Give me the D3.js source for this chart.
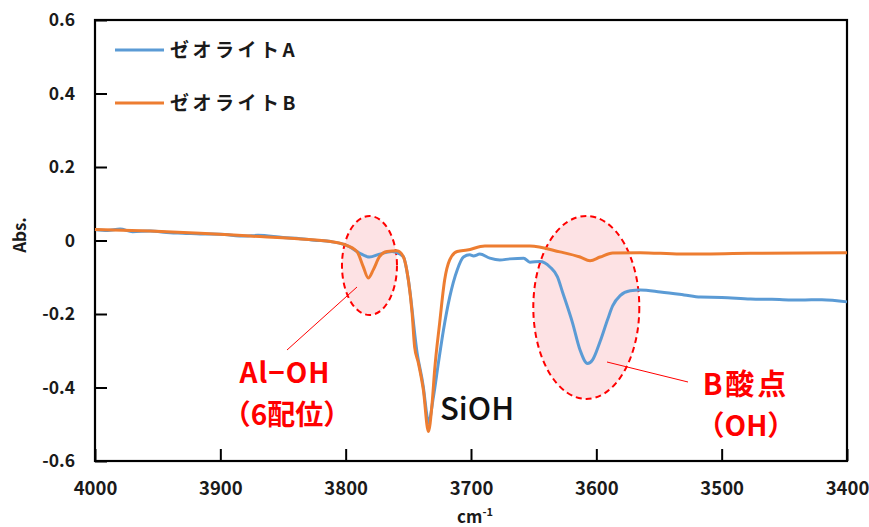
<!DOCTYPE html>
<html><head><meta charset="utf-8">
<script src="https://cdn.jsdelivr.net/npm/d3@7"></script>
<style>body{margin:0;background:#fff}svg{display:block}</style>
</head><body>
<svg id="c" width="869" height="527"></svg>
<script>
const xTicks = [4000, 3900, 3800, 3700, 3600, 3500, 3400];
const yTicks = [0.6, 0.4, 0.2, 0, -0.2, -0.4, -0.6];
const seriesNames = ["ゼオライトA", "ゼオライトB"];
const seriesColors = ["#5B9BD5", "#ED7D31"];

const waveA = [4000,3990,3980,3970,3956,3940,3930,3916,3900,3880,3870,3850,3836,3825,3812,3802,3797,3789,3781,3773,3763,3754,3750,3743,3738,3735,3734,3730,3726,3722,3717,3711,3706,3701,3698,3693,3685,3677,3669,3658,3653,3645,3637,3631,3627,3619,3613,3607,3603,3597,3591,3587,3581,3573,3565,3549,3530,3517,3500,3477,3460,3437,3420,3400];
const absA  = [0.030,0.027,0.031,0.024,0.026,0.021,0.020,0.018,0.017,0.012,0.014,0.008,0.005,0.001,-0.003,-0.010,-0.017,-0.034,-0.045,-0.037,-0.030,-0.044,-0.107,-0.306,-0.399,-0.480,-0.497,-0.426,-0.333,-0.244,-0.154,-0.080,-0.045,-0.039,-0.042,-0.037,-0.048,-0.053,-0.050,-0.048,-0.059,-0.057,-0.072,-0.099,-0.140,-0.224,-0.298,-0.335,-0.325,-0.275,-0.215,-0.178,-0.150,-0.137,-0.135,-0.140,-0.148,-0.154,-0.155,-0.159,-0.160,-0.162,-0.161,-0.167];

const waveB = [4000,3956,3916,3876,3836,3812,3802,3791,3786,3782,3778,3773,3767,3759,3754,3750,3747,3745,3742,3738,3734,3731,3729,3725,3721,3717,3711,3703,3689,3653,3629,3613,3605,3597,3587,3565,3533,3477,3400];
const absB  = [0.030,0.026,0.020,0.012,0.004,-0.003,-0.010,-0.030,-0.071,-0.102,-0.080,-0.044,-0.030,-0.028,-0.044,-0.107,-0.197,-0.289,-0.333,-0.407,-0.520,-0.442,-0.352,-0.224,-0.107,-0.053,-0.030,-0.026,-0.015,-0.015,-0.031,-0.045,-0.055,-0.045,-0.034,-0.033,-0.037,-0.035,-0.033];

const svg = d3.select("#c");
const L = 95, R = 847, T = 20, B = 461;
const x = d3.scaleLinear().domain([4000, 3400]).range([L, R]);
const y = d3.scaleLinear().domain([-0.6, 0.6]).range([B, T]);
const font = "'Noto Sans CJK JP', 'Noto Sans', sans-serif";

// annotation ellipses (behind data)
const ells = [
  {wn: 3781, ab: -0.068, rx: 27.5, ry: 49.5},
  {wn: 3608, ab: -0.182, rx: 53, ry: 91.5}
];
ells.forEach(e => {
  svg.append("ellipse").attr("cx", x(e.wn)).attr("cy", y(e.ab))
    .attr("rx", e.rx).attr("ry", e.ry)
    .attr("fill", "#fde2e4").attr("stroke", "#ff0000")
    .attr("stroke-width", 2).attr("stroke-dasharray", "6,4");
});

// leader lines
svg.append("line").attr("x1", 287).attr("y1", 350).attr("x2", 357).attr("y2", 287)
  .attr("stroke", "#ff0000").attr("stroke-width", 1);
svg.append("line").attr("x1", 607).attr("y1", 362).attr("x2", 688).attr("y2", 382)
  .attr("stroke", "#ff0000").attr("stroke-width", 1);

// axes frame
svg.append("rect").attr("x", L).attr("y", T).attr("width", R - L).attr("height", B - T)
  .attr("fill", "none").attr("stroke", "#000").attr("stroke-width", 2.2);

const yAxis = d3.axisLeft(y).tickValues(yTicks).tickSize(-12).tickPadding(20)
  .tickFormat(d => d === 0 ? "0" : d.toFixed(1));
const gy = svg.append("g").attr("transform", `translate(${L},0)`).call(yAxis);
gy.select(".domain").remove();
gy.selectAll("line").attr("stroke", "#000").attr("stroke-width", 2);
gy.selectAll("text").attr("font-family", font).attr("font-weight", "bold")
  .attr("font-size", 17.5).attr("fill", "#1a1a1a");

const xAxis = d3.axisBottom(x).tickValues(xTicks).tickSize(-12).tickPadding(21)
  .tickFormat(d3.format("d"));
const gx = svg.append("g").attr("transform", `translate(0,${B})`).call(xAxis);
gx.select(".domain").remove();
gx.selectAll("line").attr("stroke", "#000").attr("stroke-width", 2);
gx.selectAll("text").attr("font-family", font).attr("font-weight", "bold")
  .attr("font-size", 18.5).attr("fill", "#1a1a1a");

// data lines
const line = d3.line().x(d => x(d[0])).y(d => y(d[1])).curve(d3.curveMonotoneX);
const dataA = waveA.map((w, i) => [w, absA[i]]);
const dataB = waveB.map((w, i) => [w, absB[i]]);
svg.append("path").datum(dataA).attr("d", line).attr("fill", "none")
  .attr("stroke", seriesColors[0]).attr("stroke-width", 3).attr("stroke-linejoin", "round");
svg.append("path").datum(dataB).attr("d", line).attr("fill", "none")
  .attr("stroke", seriesColors[1]).attr("stroke-width", 3).attr("stroke-linejoin", "round");

// legend
[50, 103].forEach((ly, i) => {
  svg.append("line").attr("x1", 115).attr("x2", 164).attr("y1", ly).attr("y2", ly)
    .attr("stroke", seriesColors[i]).attr("stroke-width", 3);
  svg.append("text").attr("x", 170).attr("y", ly + 7).text(seriesNames[i])
    .attr("font-family", font).attr("font-weight", "bold").attr("font-size", 19)
    .attr("letter-spacing", 3.5).attr("fill", "#1a1a1a");
});

// axis titles
svg.append("text").attr("transform", "translate(26,235) rotate(-90)")
  .attr("text-anchor", "middle").attr("font-family", font).attr("font-weight", "bold")
  .attr("font-size", 17).attr("fill", "#1a1a1a").text("Abs.");
const xt = svg.append("text").attr("x", 475).attr("y", 523).attr("text-anchor", "middle")
  .attr("font-family", font).attr("font-weight", "bold").attr("font-size", 17).attr("fill", "#1a1a1a");
xt.append("tspan").text("cm");
xt.append("tspan").text("-1").attr("font-size", 11).attr("dy", -7);

// annotation labels
const red = "#ff0000";
svg.append("text").attr("x", 285).attr("y", 383).attr("text-anchor", "middle")
  .attr("font-family", font).attr("font-weight", "bold").attr("font-size", 28).attr("fill", red)
  .attr("letter-spacing", 1).text("Al−OH");
svg.append("text").attr("x", 287).attr("y", 425).attr("text-anchor", "middle")
  .attr("font-family", font).attr("font-weight", "bold").attr("font-size", 28).attr("fill", red)
  .text("（6配位）");
svg.append("text").attr("x", 746).attr("y", 395).attr("text-anchor", "middle")
  .attr("font-family", font).attr("font-weight", "bold").attr("font-size", 29).attr("fill", red)
  .attr("letter-spacing", 3).text("B酸点");
svg.append("text").attr("x", 746).attr("y", 436).attr("text-anchor", "middle")
  .attr("font-family", font).attr("font-weight", "bold").attr("font-size", 28).attr("fill", red)
  .text("（OH）");
svg.append("text").attr("x", 440).attr("y", 420)
  .attr("font-family", font).attr("font-weight", 500).attr("font-size", 31).attr("fill", "#111")
  .text("SiOH");
</script>
</body></html>
